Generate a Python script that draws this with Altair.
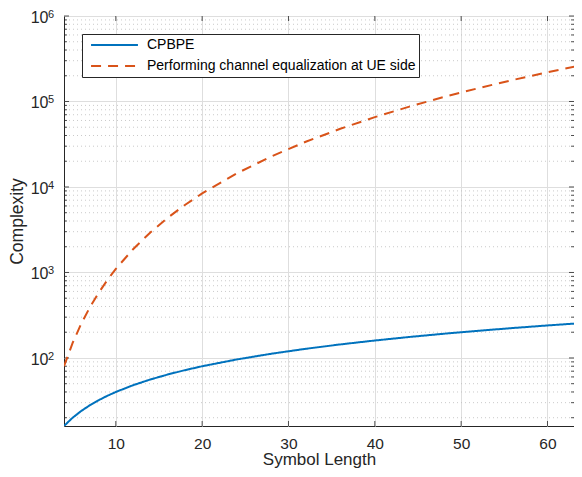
import altair as alt
import pandas as pd

# ---- data ----
symbol_length = [4, 5, 6, 7, 8, 9, 10, 12, 14, 16, 18, 20, 24, 28, 32, 36, 40, 44, 48, 52, 56, 60, 64]
cpbpe = [16, 20, 24, 28, 32, 36, 40, 48, 56, 64, 72, 80, 96, 112, 128, 144, 160, 176, 192, 208, 224, 240, 256]
ue_side = [80, 150, 252, 392, 576, 810, 1100, 1872, 2940, 4352, 6156, 8400, 14400, 22736, 33792,
           47952, 65600, 87120, 112896, 143312, 178752, 219600, 266240]
series_names = ["CPBPE", "Performing channel equalization at UE side"]
series_colors = ["#0072BD", "#D95319"]

x_ticks = [10, 20, 30, 40, 50, 60]
y_major = [100, 1000, 10000, 100000, 1000000]
y_major_exp = ["2", "3", "4", "5", "6"]
y_minor = [m * d for d in [10, 100, 1000, 10000, 100000] for m in range(2, 10)]

FONT = "Liberation Sans"
TXT = "#262626"
W, H = 510, 410

df = pd.DataFrame({
    "n": symbol_length * 2,
    "c": cpbpe + ue_side,
    "s": [series_names[0]] * len(symbol_length) + [series_names[1]] * len(symbol_length),
})
minor_df = pd.DataFrame({"v": y_minor})
major_df = pd.DataFrame({"v": y_major, "e": y_major_exp})
xt_df = pd.DataFrame({"t": x_ticks})

# the reference's plot area runs past the right edge of the picture (x = 64 lies at the edge)
x_scale = alt.Scale(domain=[4, 63.07], nice=False, zero=False)
y_scale = alt.Scale(type="log", domain=[16, 1000000], nice=False)

x_axis = alt.Axis(
    values=x_ticks, title="Symbol Length", grid=True, gridColor="#dedede", ticks=False,
    domain=False, labelFont=FONT, labelFontSize=15.5, labelColor=TXT, labelPadding=10,
    titleFont=FONT, titleFontSize=17, titleFontWeight="normal", titleColor=TXT, titlePadding=0,
    labelFlush=False)
y_axis = alt.Axis(
    values=y_major, labelExpr="'10'", title="Complexity", grid=True, gridColor="#dedede",
    ticks=False, domain=False, labelFont=FONT, labelFontSize=16, labelColor=TXT, labelPadding=16,
    labelOffset=1.5, titleFont=FONT, titleFontSize=17.5, titleFontWeight="normal", titleColor=TXT,
    titlePadding=4, labelFlush=False)

minor_grid = alt.Chart(minor_df).mark_rule(color="#bdbdbd", strokeDash=[1, 3], strokeWidth=0.8).encode(
    y=alt.Y("v:Q", scale=y_scale, axis=y_axis, title="Complexity")
)

exponents = alt.Chart(major_df).mark_text(
    align="left", baseline="alphabetic", font=FONT, fontSize=11, color=TXT, dx=-16, dy=2
).encode(
    y=alt.Y("v:Q", scale=y_scale, axis=y_axis, title="Complexity"),
    x=alt.value(0),
    text="e:N",
)

def yticks(data, length, right):
    if right:
        xx, xx2 = alt.value(W), alt.value(W - length)
    else:
        xx, xx2 = alt.value(0), alt.value(length)
    return alt.Chart(data).mark_rule(color=TXT, strokeWidth=0.8).encode(
        y=alt.Y("v:Q", scale=y_scale, axis=y_axis, title="Complexity"), x=xx, x2=xx2
    )

def xticks(top):
    if top:
        yy, yy2 = alt.value(0), alt.value(5)
    else:
        yy, yy2 = alt.value(H), alt.value(H - 5)
    return alt.Chart(xt_df).mark_rule(color=TXT, strokeWidth=0.8).encode(
        x=alt.X("t:Q", scale=x_scale, axis=x_axis, title="Symbol Length"), y=yy, y2=yy2
    )

lines = alt.Chart(df).mark_line(strokeWidth=2, clip=True).encode(
    x=alt.X("n:Q", scale=x_scale, axis=x_axis, title="Symbol Length"),
    y=alt.Y("c:Q", scale=y_scale, axis=y_axis, title="Complexity"),
    color=alt.Color("s:N", scale=alt.Scale(domain=series_names, range=series_colors),
                    legend=alt.Legend(title=None)),
    strokeDash=alt.StrokeDash("s:N", scale=alt.Scale(domain=series_names, range=[[1, 0], [10, 7]]),
                              legend=alt.Legend(title=None)),
)

chart = alt.layer(
    minor_grid,
    yticks(minor_df, 3, False), yticks(minor_df, 3, True),
    yticks(major_df, 5, False), yticks(major_df, 5, True),
    xticks(False), xticks(True),
    exponents,
    lines,
).properties(
    width=W, height=H,
    padding={"left": 56, "top": 8, "right": 0, "bottom": 43},
    autosize=alt.AutoSizeParams(type="none"),
).configure_view(
    stroke=TXT, strokeWidth=1
).configure_legend(
    orient="none", legendX=18, legendY=18, strokeColor=TXT, fillColor="white", padding=3,
    symbolType="stroke", symbolSize=2200, symbolStrokeWidth=2, symbolOffset=5,
    labelFont=FONT, labelFontSize=14, labelColor="black", labelOffset=8, labelLimit=0,
    clipHeight=16, rowPadding=5, cornerRadius=0
)

chart.save("out.html", embed_options={"renderer": "svg", "actions": False})
